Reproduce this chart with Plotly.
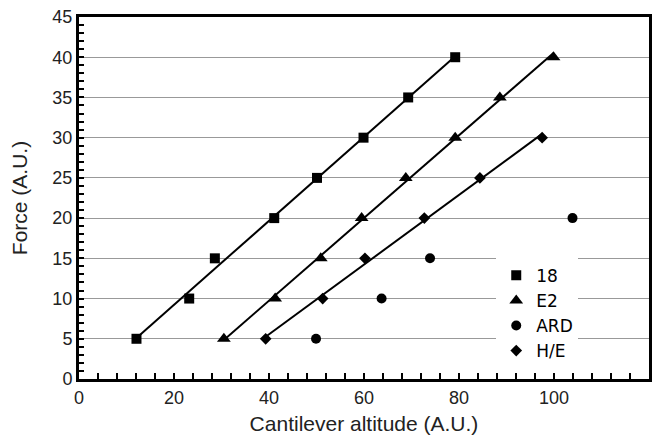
import numpy as np
import plotly.graph_objects as go

# Data
x_18 = [12.1, 23.2, 28.6, 41.1, 50.1, 59.9, 69.3, 79.2]
y_18 = [5, 10, 15, 20, 25, 30, 35, 40]

x_e2 = [30.5, 41.3, 50.9, 59.5, 68.8, 79.2, 88.6, 99.9]
y_e2 = [5, 10, 15, 20, 25, 30, 35, 40]

x_ard = [49.9, 63.7, 73.9, 103.9]
y_ard = [5, 10, 15, 20]

x_he = [39.3, 51.3, 60.2, 72.7, 84.4, 97.5]
y_he = [5, 10, 15, 20, 25, 30]

series = [
    ("18", x_18, y_18, "square", 10, True),
    ("E2", x_e2, y_e2, "triangle-up", 12, True),
    ("ARD", x_ard, y_ard, "circle", 10, False),
    ("H/E", x_he, y_he, "diamond", 9, True),
]

fig = go.Figure()

# trend lines (linear fit over the data range)
for name, xs, ys, sym, sz, fit in series:
    if fit:
        k, b = np.polyfit(xs, ys, 1)
        xl = [min(xs), max(xs)]
        yl = [k * v + b for v in xl]
        fig.add_trace(go.Scatter(x=xl, y=yl, mode="lines",
                                 line=dict(color="black", width=2),
                                 showlegend=False, hoverinfo="skip"))

for name, xs, ys, sym, sz, fit in series:
    fig.add_trace(go.Scatter(x=xs, y=ys, mode="markers", name=name,
                             marker=dict(symbol=sym, size=sz, color="black")))

axis_font = dict(family="Arial, Liberation Sans", size=18, color="#222")

fig.update_layout(
    width=658, height=435,
    margin=dict(l=79, r=9, t=17, b=56),
    paper_bgcolor="white", plot_bgcolor="white",
    font=axis_font,
    legend=dict(x=0.732, y=0.335, xanchor="left", yanchor="top",
                bgcolor="white", borderwidth=0,
                font=dict(family="DejaVu Sans, Verdana", size=17, color="black"),
                itemwidth=30, tracegroupgap=0),
    xaxis=dict(range=[0, 120], dtick=20, showgrid=False, zeroline=False,
               automargin=False,
               showline=True, linecolor="black", linewidth=3, mirror=True,
               ticks="inside", ticklen=6, tickwidth=1.5, tickcolor="black",
               minor=dict(dtick=4, ticks="inside", ticklen=6, tickwidth=1.5, tickcolor="black"),
               title=dict(text="Cantilever altitude (A.U.)", font=dict(size=21), standoff=10),
               tickfont=axis_font),
    yaxis=dict(range=[0, 45], dtick=5, showgrid=True, gridcolor="#999", gridwidth=1,
               zeroline=False, automargin=False,
               showline=True, linecolor="black", linewidth=3, mirror=True,
               ticks="inside", ticklen=5, tickwidth=1.5, tickcolor="black",
               minor=dict(dtick=1, ticks="inside", ticklen=5, tickwidth=1.5, tickcolor="black"),
               title=dict(text="Force (A.U.)", font=dict(size=21), standoff=20),
               tickfont=axis_font),
)

fig.write_html("out.html")
